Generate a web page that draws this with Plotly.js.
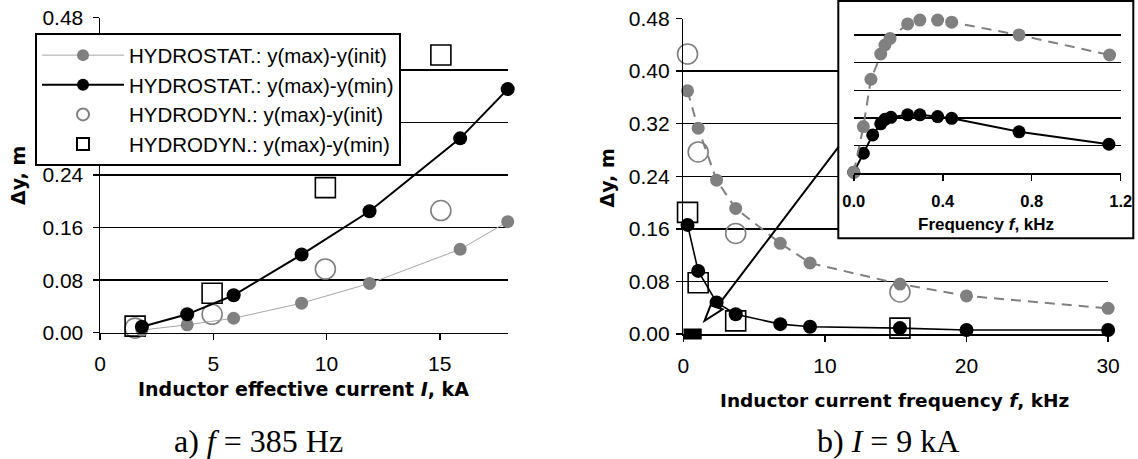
<!DOCTYPE html>
<html><head><meta charset="utf-8">
<script src="https://cdn.plot.ly/plotly-3.0.1.min.js"></script>
<style>html,body{margin:0;padding:0;background:#fff;overflow:hidden}</style>
</head><body><div id="chart" style="width:1138px;height:459px"></div>
<script>
// ---------- data (a): f = 385 Hz, x = current, kA ----------
const currentStat = [1.85, 3.85, 5.9, 8.9, 11.9, 15.9, 18];
const statInitA   = [0.004, 0.012, 0.022, 0.045, 0.075, 0.127, 0.169];
const statMinA    = [0.009, 0.028, 0.057, 0.119, 0.185, 0.296, 0.371];
const currentDyn  = [1.55, 4.95, 9.95, 15.05];
const dynInitA    = [0.007, 0.028, 0.097, 0.186];
const dynMinA     = [0.010, 0.060, 0.221, 0.423];

// ---------- data (b): I = 9 kA, x = frequency, kHz ----------
const freqMain  = [0.3, 1.05, 2.35, 3.7, 6.85, 8.95, 15.3, 20, 30];
const statInitB = [0.370, 0.313, 0.234, 0.191, 0.138, 0.108, 0.076, 0.058, 0.039];
const statMinB  = [0.166, 0.096, 0.048, 0.030, 0.015, 0.011, 0.009, 0.006, 0.006];
const freqDyn   = [0.3, 1.05, 3.7, 15.3];
const dynInitB  = [0.426, 0.277, 0.153, 0.064];
const dynMinB   = [0.185, 0.078, 0.020, 0.009];

// ---------- inset (b): low frequencies ----------
const freqInsetInit = [0, 0.043, 0.077, 0.121, 0.14, 0.163, 0.242, 0.297, 0.377, 0.44, 0.743, 1.15];
const statInitInset = [0.003, 0.135, 0.272, 0.345, 0.371, 0.390, 0.432, 0.443, 0.443, 0.437, 0.400, 0.342];
const freqInsetMin  = [0, 0.043, 0.085, 0.121, 0.14, 0.167, 0.242, 0.297, 0.377, 0.44, 0.743, 1.147];
const statMinInset  = [0.003, 0.058, 0.111, 0.143, 0.156, 0.162, 0.169, 0.169, 0.164, 0.159, 0.120, 0.084];

// ---------- ticks & labels ----------
const yTicks      = [0, 0.08, 0.16, 0.24, 0.32, 0.40, 0.48];
const xTicksA     = [0, 5, 10, 15];
const xTicksB     = [0, 10, 20, 30];
const xTicksInset = [0, 0.4, 0.8, 1.2];
const seriesNames = ['HYDROSTAT.: y(max)-y(init)', 'HYDROSTAT.: y(max)-y(min)',
                     'HYDRODYN.: y(max)-y(init)', 'HYDRODYN.: y(max)-y(min)'];

// ---------- geometry helpers (pixels -> paper) ----------
const W = 1138, H = 459;
const xd = (l, r) => [l / W, r / W];
const yd = (t, b) => [1 - b / H, 1 - t / H];

const GRAY = '#808080';
const ARIAL = 'Arial, "Liberation Sans", sans-serif';
const DJ = '"DejaVu Sans", sans-serif';
const SERIF = '"Times New Roman", "Liberation Serif", serif';

function mainTraces(xa, ya, xStat, yInit, yMin, xDyn, dInit, dMin, showleg, dashed) {
  return [
    {x: xDyn, y: dInit, name: seriesNames[2], mode: 'markers', xaxis: xa, yaxis: ya,
     legendrank: 3, showlegend: showleg, cliponaxis: false,
     marker: {symbol: 'circle-open', size: 20, color: GRAY, line: {color: GRAY, width: 1.6}}},
    {x: xDyn, y: dMin, name: seriesNames[3], mode: 'markers', xaxis: xa, yaxis: ya,
     legendrank: 4, showlegend: showleg, cliponaxis: false,
     marker: {symbol: 'square-open', size: 20, color: 'black', line: {color: 'black', width: 1.6}}},
    {x: xStat, y: yInit, name: seriesNames[0], mode: 'lines+markers', xaxis: xa, yaxis: ya,
     legendrank: 1, showlegend: showleg, cliponaxis: false,
     line: dashed ? {color: GRAY, width: 2, dash: '10px,7px'} : {color: '#a6a6a6', width: 1},
     marker: {size: 13, color: GRAY}},
    {x: xStat, y: yMin, name: seriesNames[1], mode: 'lines+markers', xaxis: xa, yaxis: ya,
     legendrank: 2, showlegend: showleg, cliponaxis: false,
     line: {color: 'black', width: dashed ? 1.6 : 2},
     marker: {size: 14, color: 'black'}}
  ];
}

const traces = [].concat(
  mainTraces('x', 'y', currentStat, statInitA, statMinA, currentDyn, dynInitA, dynMinA, true, false),
  mainTraces('x2', 'y2', freqMain, statInitB, statMinB, freqDyn, dynInitB, dynMinB, false, true),
  [{x: [], y: [], xaxis: 'x3', yaxis: 'y3', showlegend: false, hoverinfo: 'skip', mode: 'markers'}],
  [
    {x: freqInsetMin, y: statMinInset, name: seriesNames[1], mode: 'lines+markers', xaxis: 'x4', yaxis: 'y4',
     showlegend: false, cliponaxis: false, line: {color: 'black', width: 2}, marker: {size: 13, color: 'black'}},
    {x: freqInsetInit, y: statInitInset, name: seriesNames[0], mode: 'lines+markers', xaxis: 'x4', yaxis: 'y4',
     showlegend: false, cliponaxis: false, line: {color: GRAY, width: 2, dash: '10px,7px'}, marker: {size: 13, color: GRAY}}
  ]
);

const tickFont = {family: ARIAL, size: 21, color: 'black'};
function xAxis(dom, range, vals, anchor) {
  return {domain: dom, range: range, tickvals: vals, anchor: anchor, showgrid: false, zeroline: false,
          showline: true, linecolor: 'black', linewidth: 1.5, ticks: 'outside', ticklen: 6, tickwidth: 1.5,
          tickcolor: 'black', tickfont: tickFont, ticklabelstandoff: 6, fixedrange: true};
}
function yAxis(dom, anchor, standoff) {
  return {domain: dom, range: [0, 0.48], tickvals: yTicks, tickformat: '.2f', anchor: anchor,
          showgrid: true, gridcolor: 'black', gridwidth: 1.5, zeroline: false,
          showline: true, linecolor: 'black', linewidth: 1.5, ticks: 'outside', ticklen: 6, tickwidth: 1.5,
          tickcolor: 'black', tickfont: tickFont, ticklabelstandoff: standoff, fixedrange: true};
}

const boxX = xd(838.3, 1133.3), boxY = yd(1, 238.3);
const mainBY = yd(18.5, 334);

function note(text, xPx, yPx, font, angle) {
  return {text: text, xref: 'paper', yref: 'paper', x: xPx / W, y: 1 - yPx / H,
          xanchor: 'center', yanchor: 'middle', textangle: angle || 0, showarrow: false, font: font};
}

const layout = {
  width: W, height: H, margin: {l: 0, r: 0, t: 0, b: 0},
  paper_bgcolor: 'white', plot_bgcolor: 'white', showlegend: true, hovermode: false,
  font: {family: ARIAL, color: 'black'},
  xaxis: xAxis(xd(100, 507.7), [0, 18], xTicksA, 'y'),
  yaxis: yAxis(yd(17.5, 332.7), 'x', 5),
  xaxis2: xAxis(xd(683.3, 1108.1), [0, 30], xTicksB, 'y2'),
  yaxis2: yAxis(mainBY, 'x2', 2),
  xaxis3: {domain: boxX, range: [0, 1], anchor: 'y3', showgrid: false, zeroline: false, showline: false,
           showticklabels: false, ticks: '', fixedrange: true},
  yaxis3: {domain: boxY, range: [0, 1], anchor: 'x3', showgrid: false, zeroline: false, showline: false,
           showticklabels: false, ticks: '', fixedrange: true},
  xaxis4: {domain: xd(853.8, 1120.7), range: [0, 1.2], tickvals: xTicksInset, tickformat: '.1f', anchor: 'y4',
           showgrid: false, zeroline: false, showline: true, linecolor: 'black', linewidth: 1.5,
           ticks: 'outside', ticklen: 6, tickwidth: 1.5, tickcolor: 'black', ticklabelstandoff: 6,
           tickfont: {family: ARIAL, size: 16.5, color: 'black', weight: 'bold'}, fixedrange: true},
  yaxis4: {domain: yd(7.3, 173.3), range: [0, 0.48], tickvals: yTicks, anchor: 'x4', showgrid: true,
           gridcolor: 'black', gridwidth: 1.5, zeroline: false, showline: false, showticklabels: false,
           ticks: '', fixedrange: true},
  legend: {x: 35 / W, y: 1 - 33.3 / H, xanchor: 'left', yanchor: 'top', bgcolor: 'white',
           bordercolor: 'black', borderwidth: 2, font: {family: ARIAL, size: 20.5, color: 'black'},
           itemwidth: 82, itemsizing: 'constant', traceorder: 'normal'},
  shapes: [
    // inset frame
    {type: 'rect', xref: 'paper', yref: 'paper', x0: boxX[0], x1: boxX[1], y0: boxY[0], y1: boxY[1],
     line: {color: 'black', width: 2}, fillcolor: 'rgba(0,0,0,0)', layer: 'above'},
    // zoomed frequency band on main axis
    {type: 'rect', xref: 'x2', yref: 'paper', x0: 0, x1: 1.3, y0: mainBY[0] - 5.5 / H, y1: mainBY[0] + 5.5 / H,
     line: {width: 0}, fillcolor: 'black', layer: 'above'},
    // arrow from band to inset (open head)
    {type: 'path', xref: 'x2', yref: 'y2', xsizemode: 'pixel', ysizemode: 'pixel', xanchor: 1.5, yanchor: 0.02,
     path: 'M12,13.5L134,174M0,0L6,15.5L18,11.5Z', line: {color: 'black', width: 2}, fillcolor: 'white',
     layer: 'above'}
  ],
  annotations: [
    note('<b>Δy, m</b>', 18, 176, {family: DJ, size: 19, color: 'black'}, -90),
    note('<b>Inductor effective current <i>I</i>, kA</b>', 303, 389, {family: DJ, size: 19, color: 'black'}),
    note('<b>Δy, m</b>', 606.5, 178, {family: DJ, size: 19, color: 'black'}, -90),
    note('<b>Inductor current frequency <i>f</i>, kHz</b>', 894, 400, {family: DJ, size: 18.5, color: 'black'}),
    note('<b>Frequency <i>f</i>, kHz</b>', 986.3, 224, {family: ARIAL, size: 17, color: 'black'}),
    note('a) <i>f</i> = 385 Hz', 258.5, 441, {family: SERIF, size: 32, color: 'black'}),
    note('b) <i>I</i> = 9 kA', 888, 441, {family: SERIF, size: 32, color: 'black'})
  ]
};

Plotly.newPlot('chart', traces, layout, {displayModeBar: false, staticPlot: true}).then(function (gd) {
  // thin legend line samples like the reference (gray hairline, black 2px)
  const widths = {};
  widths[seriesNames[0]] = 1;
  widths[seriesNames[1]] = 2;
  document.querySelectorAll('.legend .traces').forEach(function (g) {
    const label = g.querySelector('.legendtext');
    const name = label ? label.textContent : '';
    if (widths[name] !== undefined) {
      g.querySelectorAll('.legendlines path').forEach(function (p) {
        p.style.strokeWidth = widths[name] + 'px';
      });
    }
  });
});
</script></body></html>
